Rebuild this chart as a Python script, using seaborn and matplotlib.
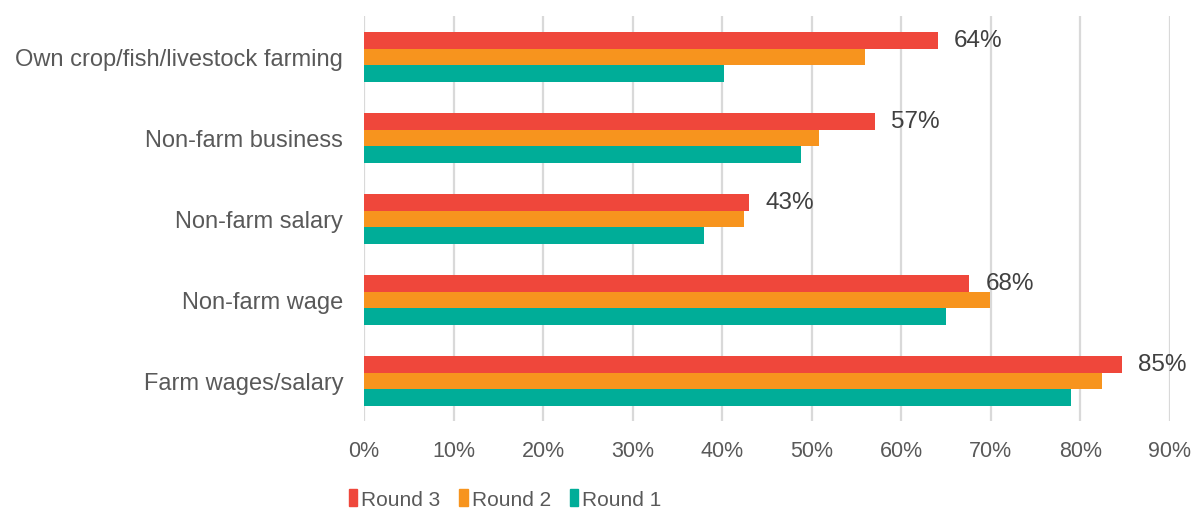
import pandas as pd
import matplotlib
matplotlib.use("Agg")
import matplotlib.pyplot as plt
from matplotlib import font_manager
from matplotlib.ticker import FuncFormatter
import seaborn as sns

# ---------------------------------------------------------
# DATA (percent of households)
# ---------------------------------------------------------
categories = [
    "Own crop/fish/livestock farming",
    "Non-farm business",
    "Non-farm salary",
    "Non-farm wage",
    "Farm wages/salary",
]
round_3 = [64.1, 57.1, 43.0, 67.6, 84.7]
round_2 = [56.0, 50.8, 42.4, 69.9, 82.4]
round_1 = [40.2, 48.8, 38.0, 65.0, 78.9]
rounds = ["Round 3", "Round 2", "Round 1"]
colors = ["#EF473B", "#F7941E", "#00AD98"]

df = pd.concat([
    pd.DataFrame({"Category": categories, "Round": name, "Value": vals})
    for name, vals in zip(rounds, [round_3, round_2, round_1])
])

# ---------------------------------------------------------
# FONTS
# ---------------------------------------------------------
sns.set_style("white")
names = {f.name for f in font_manager.fontManager.ttflist}
narrow = "Liberation Sans Narrow" if "Liberation Sans Narrow" in names else "Liberation Sans"
plt.rcParams["font.family"] = ["Liberation Sans", "DejaVu Sans"]

# ---------------------------------------------------------
# PLOT
# ---------------------------------------------------------
fig = plt.figure(figsize=(11.95, 5.1), dpi=100)
ax = fig.add_axes([0.3046, 0.1716, 0.979 - 0.3046, 0.9657 - 0.1716])

sns.barplot(data=df, y="Category", x="Value", hue="Round", hue_order=rounds,
            palette=colors, orient="h", width=0.62, gap=0, ax=ax,
            legend=False, saturation=1, linewidth=0)

ax.set_xlim(0, 90)
ax.set_xticks(range(0, 91, 10))
ax.xaxis.set_major_formatter(FuncFormatter(lambda v, p: f"{v:.0f}%"))
ax.grid(axis="x", color="#D9D9D9", linewidth=1.6)
ax.grid(axis="y", visible=False)
ax.set_axisbelow(True)
for s in ax.spines.values():
    s.set_visible(False)
ax.set_xlabel("")
ax.set_ylabel("")
ax.tick_params(axis="x", length=0, pad=13, labelsize=15.5, labelcolor="#595959")
ax.tick_params(axis="y", length=0, pad=15, labelsize=17, labelcolor="#595959")
for t in ax.get_xticklabels():
    t.set_fontfamily(narrow)

# data labels on Round 3 only
ax.bar_label(ax.containers[0], fmt="{:.0f}%", padding=11.5,
             fontsize=17.5, color="#404040")

handles = [plt.Rectangle((0, 0), 1, 1, color=c) for c in colors]
leg = fig.legend(handles, rounds, loc="center", bbox_to_anchor=(505 / 1195, 1 - 500 / 510),
                 ncol=3, frameon=False, handlelength=0.4, handleheight=0.85,
                 handletextpad=0.2, columnspacing=0.9,
                 prop={"family": narrow, "size": 15})
for t in leg.get_texts():
    t.set_color("#595959")

fig.savefig("out.png", dpi=100)
